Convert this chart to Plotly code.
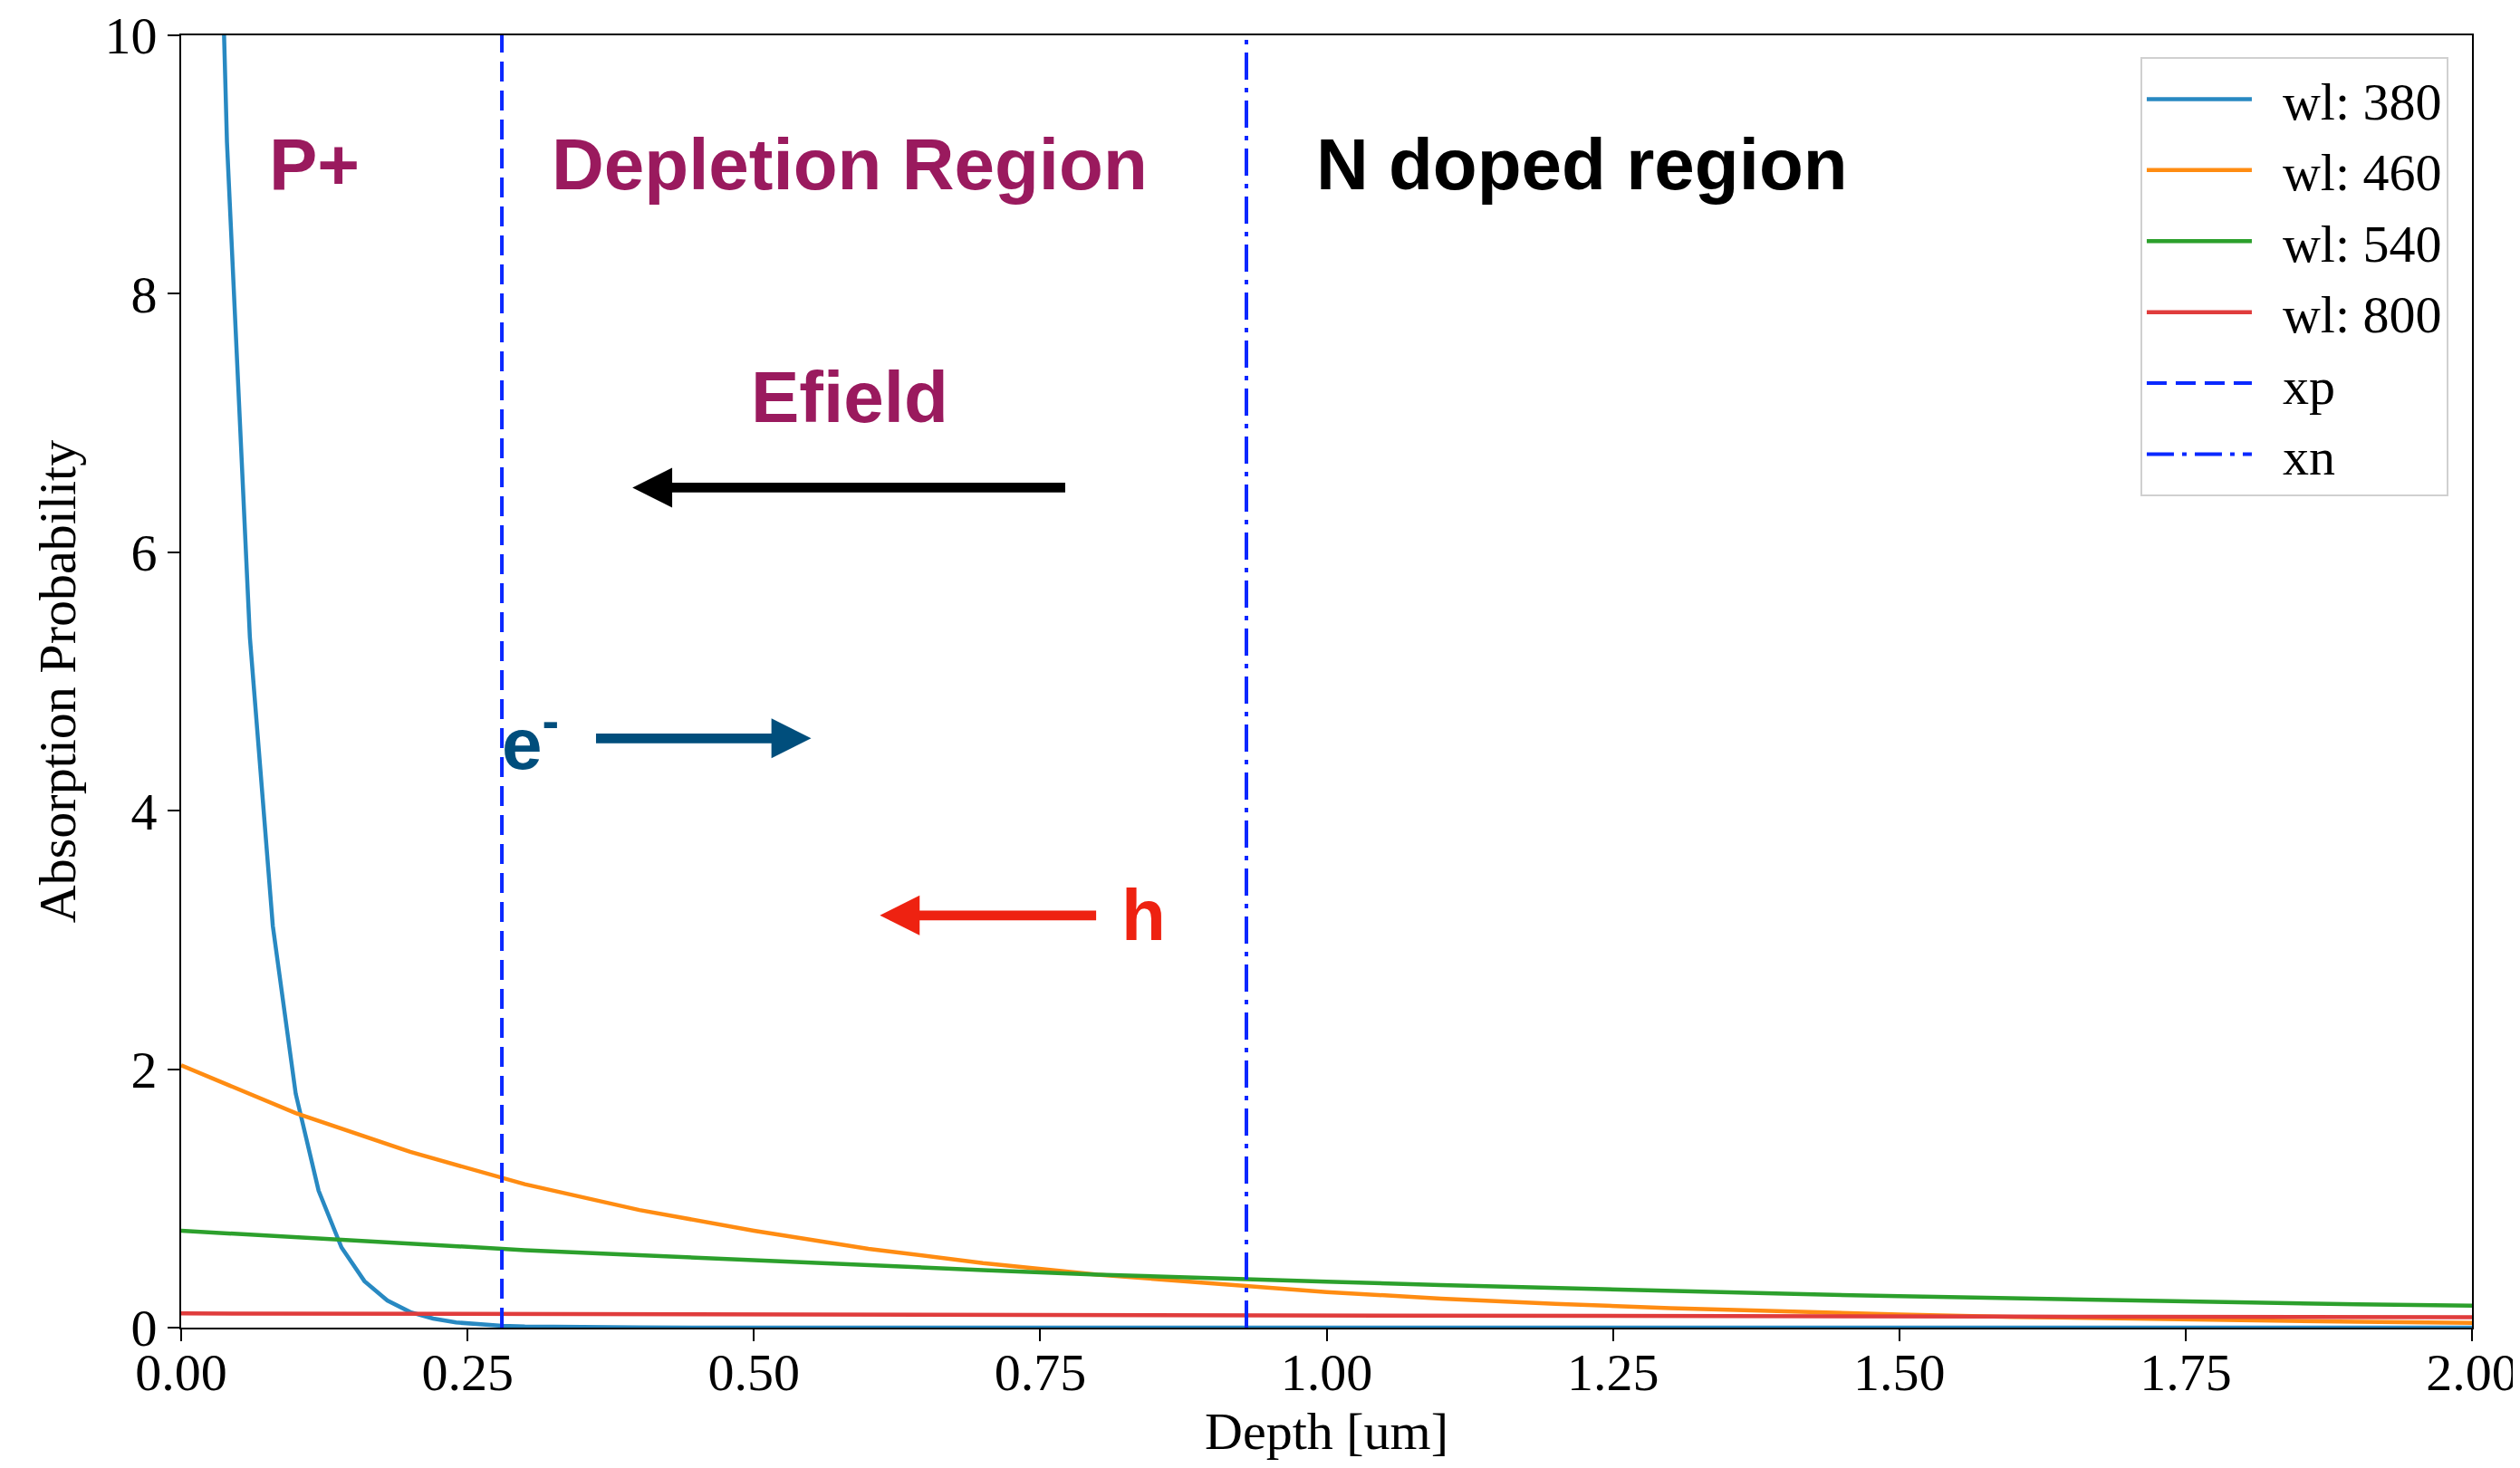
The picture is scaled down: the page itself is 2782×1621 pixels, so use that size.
import plotly.graph_objects as go

# ---------------- data ----------------
depth_380 = [0.00, 0.02, 0.04, 0.06, 0.08, 0.10, 0.12, 0.14, 0.16, 0.18, 0.20,
             0.22, 0.24, 0.26, 0.28, 0.30, 0.40, 0.60, 0.80, 1.00, 1.25, 1.50, 1.75, 2.00]
prob_380 = [27.0, 15.7, 9.17, 5.34, 3.11, 1.81, 1.06, 0.62, 0.36, 0.21, 0.12,
            0.07, 0.04, 0.024, 0.014, 0.008, 0.001, 0.0, 0.0, 0.0, 0.0, 0.0, 0.0, 0.0]

depth = [0.0, 0.1, 0.2, 0.3, 0.4, 0.5, 0.6, 0.7, 0.8, 0.9, 1.0,
         1.1, 1.2, 1.3, 1.4, 1.5, 1.6, 1.7, 1.8, 1.9, 2.0]
prob_460 = [2.03, 1.66, 1.36, 1.11, 0.91, 0.75, 0.61, 0.50, 0.41, 0.34, 0.275,
            0.225, 0.184, 0.151, 0.124, 0.101, 0.083, 0.068, 0.056, 0.045, 0.037]
prob_540 = [0.75, 0.70, 0.65, 0.60, 0.56, 0.52, 0.48, 0.445, 0.41, 0.38, 0.355,
            0.33, 0.305, 0.283, 0.262, 0.243, 0.226, 0.209, 0.194, 0.180, 0.170]
prob_800 = [0.110, 0.108, 0.107, 0.105, 0.103, 0.102, 0.100, 0.098, 0.097, 0.095, 0.094,
            0.092, 0.091, 0.090, 0.088, 0.087, 0.085, 0.084, 0.082, 0.081, 0.080]

xp = 0.28
xn = 0.93
y_range = [0, 10]

series_names = ["wl: 380", "wl: 460", "wl: 540", "wl: 800"]
series_colors = ["#2889c2", "#ff8c12", "#2ca02c", "#e03c3c"]

x_ticks = [0.0, 0.25, 0.5, 0.75, 1.0, 1.25, 1.5, 1.75, 2.0]
y_ticks = [0, 2, 4, 6, 8, 10]

SERIF = "Liberation Serif, Times New Roman, serif"
SANS = "Liberation Sans, Arial, Helvetica, sans-serif"
PURPLE = "#9a1a5e"
PAD = "\u00a0\u00a0"  # visual gap between legend sample line and its label

fig = go.Figure()
xs = [depth_380, depth, depth, depth]
ys = [prob_380, prob_460, prob_540, prob_800]
for name, col, xv, yv in zip(series_names, series_colors, xs, ys):
    fig.add_trace(go.Scatter(x=xv, y=yv, mode="lines", name=PAD + name,
                             line=dict(color=col, width=4.5)))

fig.add_trace(go.Scatter(x=[xp, xp], y=y_range, mode="lines", name=PAD + "xp",
                         line=dict(color="#0a28ff", width=4, dash="22px,10px")))
fig.add_trace(go.Scatter(x=[xn, xn], y=y_range, mode="lines", name=PAD + "xn",
                         line=dict(color="#0a28ff", width=4, dash="30px,9px,5px,9px")))

# ---------------- annotations ----------------
texts = [
    ("P+", 0.116, 9.0, PURPLE),
    ("Depletion Region", 0.584, 9.0, PURPLE),
    ("N doped region", 1.223, 9.0, "black"),
    ("Efield", 0.584, 7.2, PURPLE),
    ("e<sup>-</sup>", 0.305, 4.56, "#004e7c"),
    ("h", 0.840, 3.19, "#ee2211"),
]
for t, xv, yv, col in texts:
    fig.add_annotation(x=xv, y=yv, xref="x", yref="y", text=t, showarrow=False,
                       font=dict(family=SANS, size=80, color=col, weight="bold"),
                       xanchor="center", yanchor="middle")

arrows = [
    (0.394, 0.773, 6.50, "black"),
    (0.550, 0.361, 4.56, "#004e7c"),
    (0.610, 0.800, 3.19, "#ee2211"),
]
for tip, tail, yv, col in arrows:
    fig.add_annotation(x=tip, y=yv, ax=tail, ay=yv, xref="x", yref="y",
                       axref="x", ayref="y", text="", showarrow=True,
                       arrowhead=2, arrowsize=0.82, arrowwidth=10.7,
                       arrowcolor=col, standoff=0, startstandoff=0)

axis_common = dict(
    showline=True, linecolor="black", linewidth=2, mirror=True,
    ticks="outside", ticklen=13, tickwidth=2, tickcolor="black",
    showgrid=False, zeroline=False, automargin=False,
    ticklabeloverflow="allow",
    tickfont=dict(family=SERIF, size=58, color="black"),
)

# page body has an 8px margin, so the figure is 16px smaller than the window
fig.update_layout(
    width=2766, height=1605,
    margin=dict(l=192, r=45, t=31, b=147, autoexpand=False),
    paper_bgcolor="white", plot_bgcolor="white",
    xaxis=dict(range=[0, 2], tickvals=x_ticks, tickformat=".2f",
               ticklabelstandoff=-16,
               title=dict(text="Depth [um]", font=dict(family=SERIF, size=58, color="black"),
                          standoff=19),
               **axis_common),
    yaxis=dict(range=y_range, tickvals=y_ticks,
               title=dict(text="Absorption Probability",
                          font=dict(family=SERIF, size=58, color="black"), standoff=13),
               **axis_common),
    legend=dict(x=0.9897, y=0.983, xanchor="right", yanchor="top",
                bgcolor="white", bordercolor="#d0d0d0", borderwidth=2,
                font=dict(family=SERIF, size=58, color="black"),
                itemwidth=116),
    showlegend=True,
)

fig.write_html("out.html")
